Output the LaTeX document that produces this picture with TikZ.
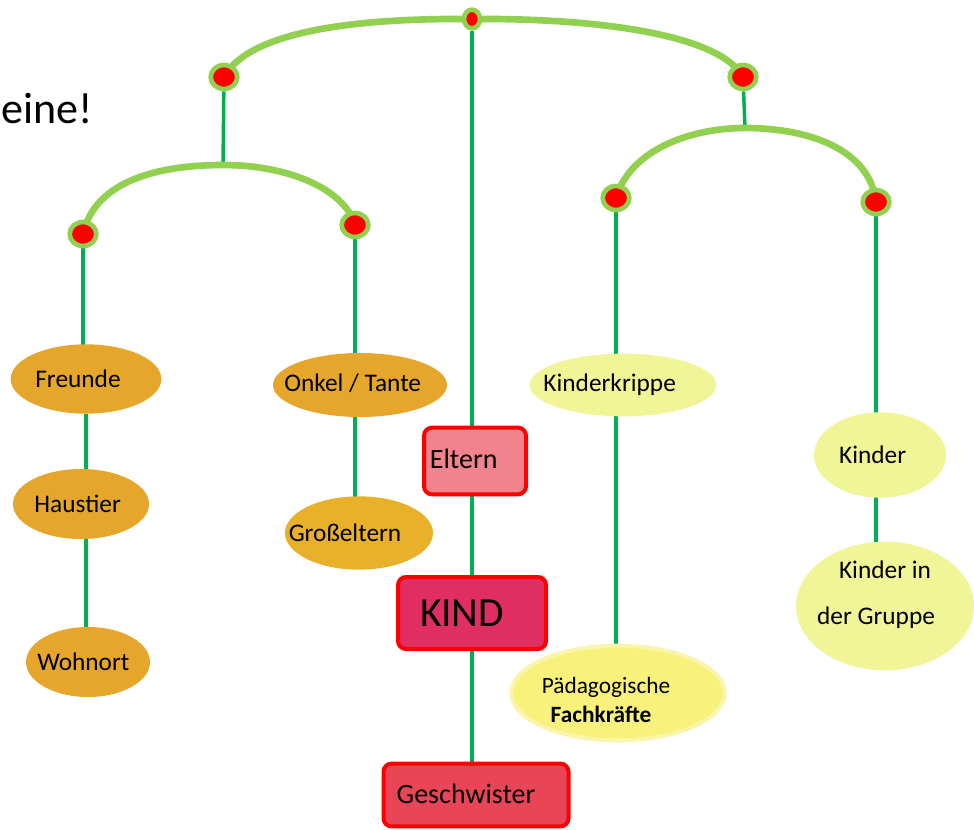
\documentclass[tikz,border=0pt]{standalone}
\usepackage{fontspec}
\setmainfont{Carlito}
\usetikzlibrary{shapes.geometric,backgrounds}
\definecolor{leaf}{HTML}{92D050}
\definecolor{stem}{HTML}{00B050}
\definecolor{ochre}{HTML}{E5A62B}
\definecolor{ochrelight}{HTML}{E8B02B}
\definecolor{pale}{HTML}{F0F597}
\definecolor{sun}{HTML}{F8F27D}
\definecolor{sunrim}{HTML}{FAF5AA}
\definecolor{rose}{HTML}{F0838C}
\definecolor{crimson}{HTML}{E02D62}
\definecolor{coral}{HTML}{E84556}

\begin{document}
\begin{tikzpicture}[x=0.75pt,y=-0.75pt,
                    hanger/.style={leaf,line width=5pt},
                    stick/.style={stem,line width=2.6pt},
                    bead/.style={ellipse,fill=red,draw=leaf,line width=3.5pt,inner sep=0pt,minimum width=20pt,minimum height=18pt},
                    oval/.style={ellipse,fill=ochre,inner sep=0pt,font=\fontsize{19}{23}\selectfont},
                    card/.style={rectangle,rounded corners=6pt,draw=red,line width=3pt,inner sep=0pt,font=\fontsize{21}{25}\selectfont}]
                                \useasboundingbox (0,0) rectangle (974,829);
                                \node[anchor=base east,inner sep=0pt,font=\fontsize{33}{40}\selectfont] (title) at (93,123) {eine!};
                                \node[bead,minimum width=12pt,minimum height=14pt] (top) at (472,19) {};
                                \node[bead] (l) at (224,77) {};
                                \node[bead] (r) at (743,77) {};
                                \node[bead] (ll) at (83,234) {};
                                \node[bead] (lr) at (355,225) {};
                                \node[bead] (rl) at (616,198) {};
                                \node[bead] (rr) at (876,202) {};
                                \coordinate (lj) at (223,165);
                                \coordinate (rj) at (745,128);
                                \node[oval,minimum width=113pt,minimum height=52pt] (freunde) at (86,379) {\makebox[0pt]{Freunde\hspace{12pt}}};
                                \node[oval,minimum width=102pt,minimum height=52.5pt] (haustier) at (81,504) {\makebox[0pt]{Haustier\hspace{5pt}}};
                                \node[oval,minimum width=93pt,minimum height=52.5pt] (wohnort) at (88,662) {\makebox[0pt]{Wohnort\hspace{7pt}}};
                                \node[oval,minimum width=130.5pt,minimum height=48pt] (onkel) at (360,385) {\makebox[0pt]{\raisebox{3pt}{Onkel / Tante}\hspace{11pt}}};
                                \node[oval,fill=ochrelight,minimum width=111pt,minimum height=55pt] (gross) at (359,533) {\makebox[0pt]{Großeltern\hspace{21pt}}};
                                \node[card,fill=rose,minimum width=76.5pt,minimum height=50pt] (eltern) at (475,461) {\makebox[0pt]{\raisebox{4pt}{Eltern}\hspace{17pt}}};
                                \node[card,fill=crimson,minimum width=111pt,minimum height=54pt,font=\fontsize{31}{37}\selectfont] (kind) at (472,613) {\makebox[0pt]{KIND\hspace{15pt}}};
                                \node[card,fill=coral,minimum width=138.75pt,minimum height=47pt] (geschw) at (476,795) {\makebox[0pt]{\raisebox{2pt}{Geschwister}\hspace{15pt}}};
                                \node[oval,fill=pale,minimum width=140pt,minimum height=47pt] (krippe) at (623,385) {\makebox[0pt]{\raisebox{2pt}{Kinderkrippe}\hspace{20pt}}};
                                \node[oval,fill=sun,draw=sunrim,line width=3pt,minimum width=160pt,minimum height=71pt,align=center,font=\fontsize{17.5}{22}\selectfont] (fach) at (618,693) {\rule{0pt}{23pt}\hspace*{-18pt}Pädagogische\\\hspace*{-25.5pt}\textbf{Fachkräfte}};
                                \node[oval,fill=pale,minimum width=99pt,minimum height=64pt] (kinder) at (880,455) {\makebox[0pt]{Kinder\hspace{11pt}}};
                                \node[oval,fill=pale,minimum width=133.5pt,minimum height=96pt,align=center,font=\fontsize{19}{35}\selectfont] (gruppe) at (885,606) {Kinder in\\\hspace*{-13.5pt}der Gruppe\rule[-20pt]{0pt}{20pt}};
                                \begin{scope}[on background layer]
                                \draw[stick] (top) -- (top |- eltern);
                                \draw[stick] (kind |- eltern) -- (kind);
                                \draw[stick] (kind) -- (kind |- geschw);
                                \draw[stick] (l) -- (lj);
                                \draw[stick] (r) -- (rj);
                                \draw[stick] (ll) -- (ll |- freunde);
                                \draw[stick] (freunde) -- (freunde |- haustier);
                                \draw[stick] (freunde |- haustier) -- (freunde |- wohnort);
                                \draw[stick] (lr) -- (lr |- onkel);
                                \draw[stick] (lr |- onkel) -- (lr |- gross);
                                \draw[stick] (rl) -- (rl |- krippe);
                                \draw[stick] (rl |- krippe) -- (rl |- fach);
                                \draw[stick] (rr) -- (rr |- kinder);
                                \draw[stick] (rr |- kinder) -- (rr |- gruppe);
                                \draw[hanger] (l.center) .. controls (250,30) and (360,18) .. (top.center) .. controls (600,18) and (720,35) .. (r.center);
                                \draw[hanger] (ll.center) .. controls (95,180) and (160,165) .. (lj) .. controls (290,165) and (345,190) .. (lr.center);
                                \draw[hanger] (rl.center) .. controls (630,150) and (690,128) .. (rj) .. controls (810,128) and (870,150) .. (rr.center);
                                \end{scope}
                            \end{tikzpicture}
\end{document}
